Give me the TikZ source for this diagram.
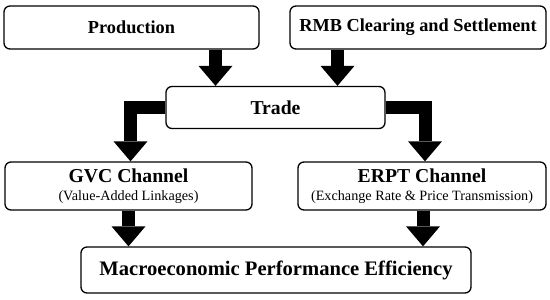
\documentclass[tikz,border=0pt]{standalone}
\usepackage{fontspec}
\setmainfont{Liberation Serif}
\usetikzlibrary{arrows.meta}

\newcommand{\subfont}{\mdseries\fontsize{14.2pt}{17pt}\selectfont}

\tikzset{
  stage/.style={draw, line width=1.3pt, rounded corners=6pt, inner sep=0pt, align=center, fill=white},
  topfont/.style={font=\bfseries\fontsize{18.3pt}{22pt}\selectfont},
  midfont/.style={font=\bfseries\fontsize{19.7pt}{17.5pt}\selectfont},
  endfont/.style={font=\bfseries\fontsize{20.6pt}{24pt}\selectfont},
  flowarrow/.style={line width=13pt, line join=miter, -{Triangle[width=34pt, length=20pt, line width=0pt]}}
}

\begin{document}
\begin{tikzpicture}[x=1pt, y=-1pt]
\useasboundingbox (0,0) rectangle (550,300);
\node[stage, topfont, minimum width=255pt, minimum height=43pt] (prod) at (131.5,27.5) {Production};
\node[stage, topfont, minimum width=256pt, minimum height=43pt] (rmb) at (418,27.5) {RMB Clearing and Settlement};
\node[stage, midfont, minimum width=219pt, minimum height=42pt] (trade) at (275.5,107.5) {Trade};
\node[stage, midfont, minimum width=247pt, minimum height=48pt] (gvc) at (128.5,186) {GVC Channel\\{\subfont (Value-Added Linkages)}};
\node[stage, midfont, minimum width=248pt, minimum height=48pt] (erpt) at (422,186) {ERPT Channel\\{\subfont (Exchange Rate \& Price Transmission)}};
\node[stage, endfont, minimum width=390pt, minimum height=46pt] (macro) at (276,270) {Macroeconomic Performance Efficiency};
\draw[flowarrow] ([xshift=84pt]prod.south) -- ([xshift=84pt]prod.south |- trade.north);
\draw[flowarrow] ([xshift=-80.5pt]rmb.south) -- ([xshift=-80.5pt]rmb.south |- trade.north);
\draw[flowarrow] (trade.west) -| ([xshift=2pt]gvc.north);
\draw[flowarrow] (trade.east) -| ([xshift=3pt]erpt.north);
\draw[flowarrow] (gvc.south) -- (gvc.south |- macro.north);
\draw[flowarrow] ([xshift=1pt]erpt.south) -- ([xshift=1pt]erpt.south |- macro.north);
\end{tikzpicture}
\end{document}
